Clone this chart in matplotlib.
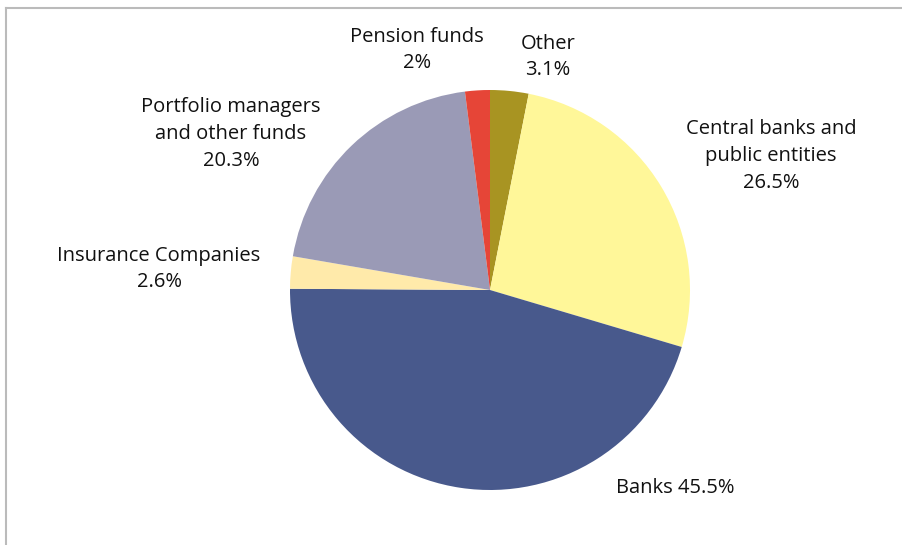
import matplotlib
matplotlib.use("Agg")
import matplotlib.pyplot as plt
from matplotlib.lines import Line2D

# Breakdown of holders (percent), clockwise from 12 o'clock
categories = ["Other", "Central banks and\npublic entities", "Banks", "Insurance Companies",
              "Portfolio managers\nand other funds", "Pension funds"]
shares = [3.1, 26.5, 45.5, 2.6, 20.3, 2.0]
share_text = ["3.1%", "26.5%", "45.5%", "2.6%", "20.3%", "2%"]
colors = ["#A89422", "#FFF799", "#48598C", "#FFEAAA", "#9A9AB6", "#E64537"]

W, H = 902, 545
fig = plt.figure(figsize=(W / 100, H / 100), dpi=100)

# Pie centre and radius in pixels
cx, cy, r = 490, 290, 200
ax = fig.add_axes([(cx - r) / W, (H - cy - r) / H, 2 * r / W, 2 * r / H])
ax.pie(shares, colors=colors, startangle=90, counterclock=False, radius=1,
       wedgeprops=dict(linewidth=0))
ax.set_xlim(-1, 1)
ax.set_ylim(-1, 1)
ax.set_aspect("equal")
ax.axis("off")

# Label placement (pixel centres of the text blocks)
label_pos = [(548, 57), (771, 156), (675, 488), (159, 269), (231, 134), (417, 50)]
font = dict(family=["Open Sans", "DejaVu Sans"], fontsize=14.5, color="#111111")
for cat, txt, (px, py) in zip(categories, share_text, label_pos):
    if cat == "Banks":
        s = f"{cat} {txt}"
    else:
        s = f"{cat}\n{txt}"
    ax.text((px - cx) / r, (cy - py) / r, s, ha="center", va="center",
            multialignment="center", linespacing=1.45, clip_on=False, **font)

# Frame lines along the top and left edges
fig.add_artist(Line2D([5.5 / W, 5.5 / W], [0, 1 - 7.5 / H], transform=fig.transFigure,
                      color="#BBBBBB", linewidth=1.5))
fig.add_artist(Line2D([5.5 / W, 1], [1 - 7.5 / H, 1 - 7.5 / H], transform=fig.transFigure,
                      color="#BBBBBB", linewidth=1.5))

fig.savefig("out.png", dpi=100)
